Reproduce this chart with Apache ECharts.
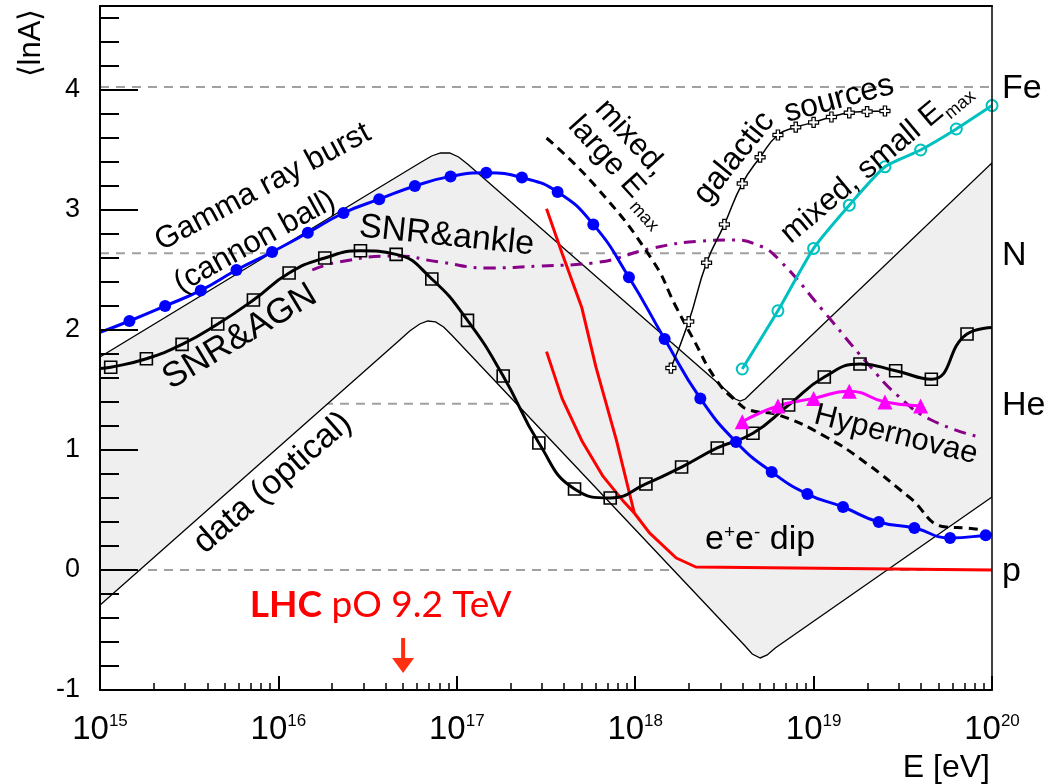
<!DOCTYPE html>
<html>
<head>
<meta charset="utf-8">
<script src="https://cdn.jsdelivr.net/npm/echarts@6/dist/echarts.min.js"></script>
<style>
  html, body { margin: 0; padding: 0; background: #fff; }
  #chart { width: 1063px; height: 784px; }
</style>
</head>
<body>
<div id="chart"></div>
<script>
// Horizontal axis: log10(E / eV); vertical axis: <lnA>
const xMajorTicks = [15, 16, 17, 18, 19, 20];
const yMajorTicks = [-1, 0, 1, 2, 3, 4];

// Reference masses drawn as dashed levels (lnA of p, He, N, Fe)
const massNames = ['p', 'He', 'N', 'Fe'];
const massNumbers = [1, 4, 14, 56];

// Shaded band "data (optical)": upper and lower boundaries
const bandUpperE   = [15.000, 16.792, 16.859, 16.909, 16.960, 17.010, 17.060, 18.527, 18.561, 18.589, 18.617, 18.651, 20.000];
const bandUpperLnA = [1.775, 3.392, 3.450, 3.475, 3.475, 3.442, 3.383, 1.475, 1.425, 1.408, 1.425, 1.475, 3.392];
const bandLowerE   = [15.000, 16.680, 16.736, 16.792, 16.837, 16.881, 16.926, 16.971, 18.611, 18.656, 18.701, 18.740, 18.785, 20.000];
const bandLowerLnA = [-0.292, 1.917, 1.992, 2.050, 2.075, 2.067, 2.025, 1.958, -0.625, -0.700, -0.733, -0.708, -0.650, 0.608];

// Gamma ray burst (cannon ball)
const grbE   = [15.165, 15.365, 15.565, 15.765, 15.965, 16.165, 16.365, 16.565, 16.765, 16.965, 17.165, 17.365, 17.565,
                17.765, 17.965, 18.165, 18.365, 18.565, 18.765, 18.965, 19.165, 19.365, 19.565, 19.765, 19.965];
const grbLnA = [2.075, 2.20, 2.33, 2.50, 2.65, 2.81, 2.975, 3.09, 3.20, 3.28, 3.31, 3.27, 3.15,
                2.88, 2.44, 1.925, 1.43, 1.067, 0.817, 0.633, 0.525, 0.40, 0.35, 0.267, 0.29];
const grbEndsE   = [15.0, 20.0];
const grbEndsLnA = [1.98, 0.30];

// SNR & AGN
const agnE   = [15.06, 15.26, 15.46, 15.66, 15.86, 16.06, 16.26, 16.46, 16.66, 16.86, 17.06, 17.26, 17.46,
                17.66, 17.86, 18.06, 18.26, 18.46, 18.66, 18.86, 19.06, 19.26, 19.46, 19.66, 19.86];
const agnLnA = [1.69, 1.76, 1.88, 2.05, 2.25, 2.475, 2.60, 2.66, 2.63, 2.425, 2.08, 1.617, 1.058,
                0.675, 0.60, 0.717, 0.858, 1.017, 1.14, 1.375, 1.608, 1.717, 1.66, 1.59, 1.967];
const agnEndsE   = [15.0, 20.0];
const agnEndsLnA = [1.68, 2.02];

// SNR & ankle
const ankleE   = [16.19, 16.34, 16.66, 16.90, 17.18, 17.46, 17.76, 18.10, 18.36, 18.53, 18.70, 18.81, 19.05, 19.30, 19.48, 19.66, 19.93];
const ankleLnA = [2.50, 2.567, 2.617, 2.567, 2.517, 2.533, 2.558, 2.683, 2.74, 2.75, 2.70, 2.58, 2.167, 1.725, 1.442, 1.25, 1.108];

// mixed, large Emax
const mixLargeE   = [17.503, 17.783, 18.096, 18.23, 18.32, 18.455, 18.572, 18.64, 18.807, 19.07, 19.295, 19.535, 19.742, 19.854, 19.955];
const mixLargeLnA = [3.60, 3.19, 2.583, 2.19, 1.94, 1.583, 1.40, 1.333, 1.29, 1.108, 0.89, 0.608, 0.358, 0.35, 0.333];

// e+e- dip (two curves)
const dipAE   = [17.503, 17.59, 17.70, 17.78, 17.895, 17.995, 18.08, 18.23, 18.34, 20.0];
const dipALnA = [3.01, 2.64, 2.19, 1.69, 1.08, 0.475, 0.31, 0.10, 0.025, 0.0];
const dipBE   = [17.503, 17.59, 17.70, 17.82, 17.93, 17.995];
const dipBLnA = [1.82, 1.43, 1.08, 0.78, 0.58, 0.475];

// galactic sources
const galE   = [18.2, 18.3, 18.4, 18.5, 18.6, 18.7, 18.8, 18.9, 19.0, 19.1, 19.2, 19.3, 19.4];
const galLnA = [1.683, 2.07, 2.56, 2.88, 3.22, 3.44, 3.625, 3.69, 3.73, 3.775, 3.81, 3.82, 3.825];

// mixed, small Emax
const mixSmallE   = [18.6, 18.8, 19.0, 19.2, 19.4, 19.6, 19.8, 20.0];
const mixSmallLnA = [1.675, 2.16, 2.68, 3.04, 3.36, 3.50, 3.675, 3.87];

// Hypernovae
const hypE   = [18.6, 18.8, 19.0, 19.2, 19.4, 19.6];
const hypLnA = [1.235, 1.367, 1.43, 1.49, 1.40, 1.367];

// LHC proton-oxygen run energy, eV
const lhcEnergy = 5e16;

const FONT = '"Liberation Sans", Arial, Helvetica, sans-serif';

function pairs(xs, ys) { return xs.map((x, i) => [x, ys[i]]); }
function withEnds(xs, ys, ex, ey) {
  const pts = pairs(xs, ys).map(p => ({ value: p }));
  return [{ value: [ex[0], ey[0]], symbol: 'none' }].concat(pts, [{ value: [ex[1], ey[1]], symbol: 'none' }]);
}

const minorX = [];
for (let d = 15; d < 20; d++) for (let k = 2; k <= 9; k++) minorX.push(d + Math.log10(k));
const minorY = [];
for (let i = -4; i <= 23; i++) { if (i % 5 !== 0) minorY.push(i / 5); }

const bandPoly = pairs(bandUpperE, bandUpperLnA).concat(pairs(bandLowerE, bandLowerLnA).reverse());

const chart = echarts.init(document.getElementById('chart'), null, { renderer: 'canvas' });

const levelSeries = massNumbers.map(a => ({
  type: 'line', z: 1, silent: true, symbol: 'none',
  data: [[15, Math.log(a)], [20, Math.log(a)]],
  lineStyle: { color: '#a0a0a0', width: 2, type: [9, 7] }
}));

const crossPath = 'path://M3,0H6V3H9V6H6V9H3V6H0V3H3Z';

const option = {
  animation: false,
  backgroundColor: '#fff',
  grid: { left: 100, right: 71, top: 6, bottom: 94, containLabel: false },
  xAxis: [
    {
      type: 'value', position: 'bottom', min: 15, max: 20, interval: 1, z: 10,
      axisLine: { onZero: false, lineStyle: { color: '#000', width: 2 } },
      axisTick: { inside: true, length: 14, lineStyle: { color: '#000', width: 2 }, customValues: xMajorTicks },
      splitLine: { show: false },
      axisLabel: {
        margin: 23, customValues: xMajorTicks,
        formatter: v => '{b|10}{s|' + Math.round(v) + '}',
        rich: {
          b: { fontSize: 33, fontFamily: FONT, color: '#000' },
          s: { fontSize: 17, fontFamily: FONT, color: '#000', verticalAlign: 'top' }
        }
      }
    },
    {
      type: 'value', position: 'bottom', min: 15, max: 20, z: 10,
      axisLine: { show: false, onZero: false },
      axisTick: { inside: true, length: 7, lineStyle: { color: '#000', width: 1.5 }, customValues: minorX },
      axisLabel: { show: false }, splitLine: { show: false }
    },
    {
      type: 'value', position: 'top', min: 15, max: 20, z: 10,
      axisLine: { onZero: false, lineStyle: { color: '#000', width: 2 } },
      axisTick: { show: false }, axisLabel: { show: false }, splitLine: { show: false }
    }
  ],
  yAxis: [
    {
      type: 'value', position: 'left', min: -1, max: 4.7, interval: 1, z: 10,
      axisLine: { show: true, onZero: false, lineStyle: { color: '#000', width: 2 } },
      axisTick: { show: true, inside: true, length: 38, lineStyle: { color: '#000', width: 2 }, customValues: yMajorTicks },
      splitLine: { show: false },
      axisLabel: { margin: 20, customValues: yMajorTicks, fontSize: 27, fontFamily: FONT, color: '#000' }
    },
    {
      type: 'value', position: 'left', min: -1, max: 4.7, z: 10,
      axisLine: { show: false, onZero: false },
      axisTick: { show: true, inside: true, length: 19, lineStyle: { color: '#000', width: 2 }, customValues: minorY },
      axisLabel: { show: false }, splitLine: { show: false }
    },
    {
      type: 'value', position: 'right', min: -1, max: 4.7, z: 10,
      axisLine: { show: true, onZero: false, lineStyle: { color: '#000', width: 1.5 } },
      axisTick: { show: false }, axisLabel: { show: false }, splitLine: { show: false }
    }
  ],
  series: levelSeries.concat([
    {
      type: 'custom', z: 2, silent: true, clip: true,
      data: [bandPoly[0]],
      renderItem: (params, api) => ({
        type: 'polygon',
        shape: { points: bandPoly.map(p => api.coord(p)) },
        style: { fill: '#efefef', stroke: '#000', lineWidth: 1.3 }
      })
    },
    {
      type: 'line', z: 4, silent: true, symbol: 'none', smooth: false,
      data: pairs(dipAE, dipALnA), lineStyle: { color: '#ff0000', width: 3 }
    },
    {
      type: 'line', z: 4, silent: true, symbol: 'none', smooth: false,
      data: pairs(dipBE, dipBLnA), lineStyle: { color: '#ff0000', width: 3 }
    },
    {
      type: 'line', z: 4, silent: true, symbol: 'none', smooth: true,
      data: pairs(ankleE, ankleLnA), lineStyle: { color: '#880088', width: 3, type: [12, 7, 3, 7] }
    },
    {
      type: 'line', z: 4, silent: true, symbol: 'none', smooth: true,
      data: pairs(mixLargeE, mixLargeLnA), lineStyle: { color: '#000', width: 3, type: [9, 6] }
    },
    {
      type: 'line', z: 5, silent: true, smooth: true, showAllSymbol: true,
      data: withEnds(agnE, agnLnA, agnEndsE, agnEndsLnA),
      symbol: 'rect', symbolSize: 12,
      lineStyle: { color: '#000', width: 3 },
      itemStyle: { color: 'rgba(255,255,255,0)', borderColor: '#000', borderWidth: 1.6 }
    },
    {
      type: 'line', z: 5, silent: true, smooth: true, showAllSymbol: true,
      data: withEnds(grbE, grbLnA, grbEndsE, grbEndsLnA),
      symbol: 'circle', symbolSize: 12,
      lineStyle: { color: '#0000ff', width: 3 },
      itemStyle: { color: '#0000ff' }
    },
    {
      type: 'line', z: 5, silent: true, smooth: true, showAllSymbol: true,
      data: pairs(galE, galLnA),
      symbol: crossPath, symbolSize: 10,
      lineStyle: { color: '#000', width: 1.5 },
      itemStyle: { color: '#fff', borderColor: '#000', borderWidth: 1.2 }
    },
    {
      type: 'line', z: 5, silent: true, smooth: 0.2, showAllSymbol: true,
      data: pairs(mixSmallE, mixSmallLnA),
      symbol: 'circle', symbolSize: 11,
      lineStyle: { color: '#00c0c0', width: 3 },
      itemStyle: { color: 'rgba(255,255,255,0)', borderColor: '#00c0c0', borderWidth: 2 }
    },
    {
      type: 'line', z: 5, silent: true, smooth: true, showAllSymbol: true,
      data: pairs(hypE, hypLnA),
      symbol: 'triangle', symbolSize: 15,
      lineStyle: { color: '#ff00ff', width: 3 },
      itemStyle: { color: '#ff00ff' }
    }
  ])
};

chart.setOption(option);

// ---- annotations, anchored in data coordinates ----
const toPx = p => chart.convertToPixel({ gridIndex: 0 }, p);
const deg = a => a * Math.PI / 180;

function textEl(text, x, y, size, extra) {
  return Object.assign({
    type: 'text', x: x, y: y, z: 20, silent: true,
    style: Object.assign({
      text: text, font: size + 'px ' + FONT, fill: '#000',
      align: 'center', verticalAlign: 'middle',
      textAlign: 'center', textVerticalAlign: 'middle'
    }, extra || {})
  });
}

const curveNotes = [
  { text: 'Gamma ray burst', at: [15.913, 3.19], rot: 28, size: 31 },
  { text: '(cannon ball)', at: [15.868, 2.733], rot: 29, size: 31 },
  { text: 'SNR&AGN', at: [15.784, 1.942], rot: 31, size: 35 },
  { text: 'SNR&ankle', at: [16.943, 2.783], rot: -6, size: 34 },
  { text: 'data (optical)', at: [15.969, 0.725], rot: 41, size: 34 },
  { text: 'galactic', at: [18.555, 3.433], rot: 51, size: 32 },
  { text: 'sources', at: [19.143, 3.925], rot: 15, size: 32 },
  { text: 'Hypernovae', at: [19.462, 1.125], rot: -14, size: 31 }
];

const graphics = [];
curveNotes.forEach(n => {
  const p = toPx(n.at);
  const el = textEl(n.text, p[0], p[1], n.size);
  el.rotation = deg(n.rot);
  graphics.push(el);
});

// mixed, large E_max (two lines with subscript)
{
  const p = toPx([17.839, 3.44]);
  graphics.push({
    type: 'group', x: p[0], y: p[1], rotation: deg(-48), z: 20,
    children: [
      textEl('mixed,', 2, -31, 31),
      textEl('large E', 0, 0, 31),
      textEl('max', 52, 12, 18, { align: 'left', textAlign: 'left' })
    ]
  });
}
// mixed, small E_max
{
  const p = toPx([19.272, 3.308]);
  graphics.push({
    type: 'group', x: p[0], y: p[1], rotation: deg(40), z: 20,
    children: [
      textEl('mixed, small E', 0, 0, 31),
      textEl('max', 102, 11, 18, { align: 'left', textAlign: 'left' })
    ]
  });
}
// e+e- dip
{
  const p = toPx([18.70, 0.25]);
  graphics.push(textEl('{t|e}{s|+}{t|e}{s|-}{t| dip}', p[0], p[1], 34, {
    rich: {
      t: { fontSize: 34, fontFamily: FONT, fill: '#000', color: '#000' },
      s: { fontSize: 19, fontFamily: FONT, fill: '#000', color: '#000', verticalAlign: 'top' }
    }
  }));
}
// mass labels at the right edge
massNames.forEach((name, i) => {
  const p = toPx([20, Math.log(massNumbers[i])]);
  graphics.push(textEl(name, p[0] + 10, p[1] + 2, 34, { align: 'left', textAlign: 'left' }));
});
// LHC energy marker
{
  const t = toPx([15.84, -0.29]);
  graphics.push(textEl('{b|LHC} pO 9.2 TeV', t[0], t[1], 37, {
    align: 'left', textAlign: 'left', fill: '#ff0000',
    font: '37px Lato, "Open Sans", sans-serif',
    rich: { b: { fontSize: 37, fontWeight: 'bold', fontFamily: 'Lato, "Open Sans", sans-serif', fill: '#ff0000', color: '#ff0000' } }
  }));
  const lx = Math.log10(lhcEnergy);
  const a0 = toPx([lx, -0.567]);
  const a1 = toPx([lx, -0.858]);
  graphics.push({
    type: 'line', z: 20, silent: true,
    shape: { x1: a0[0], y1: a0[1], x2: a1[0], y2: a1[1] - 8 },
    style: { stroke: '#ff3010', lineWidth: 4 }
  });
  graphics.push({
    type: 'polygon', z: 20, silent: true,
    shape: { points: [[a1[0] - 11, a1[1] - 15], [a1[0] + 11, a1[1] - 15], [a1[0], a1[1]]] },
    style: { fill: '#ff3010' }
  });
}
// axis titles
graphics.push(textEl('E [eV]', 990, 768, 32, { align: 'right', textAlign: 'right' }));
{
  const el = textEl('⟨lnA⟩', 31, 43, 31);
  el.rotation = deg(90);
  graphics.push(el);
}

chart.setOption({ graphic: graphics });
</script>
</body>
</html>
